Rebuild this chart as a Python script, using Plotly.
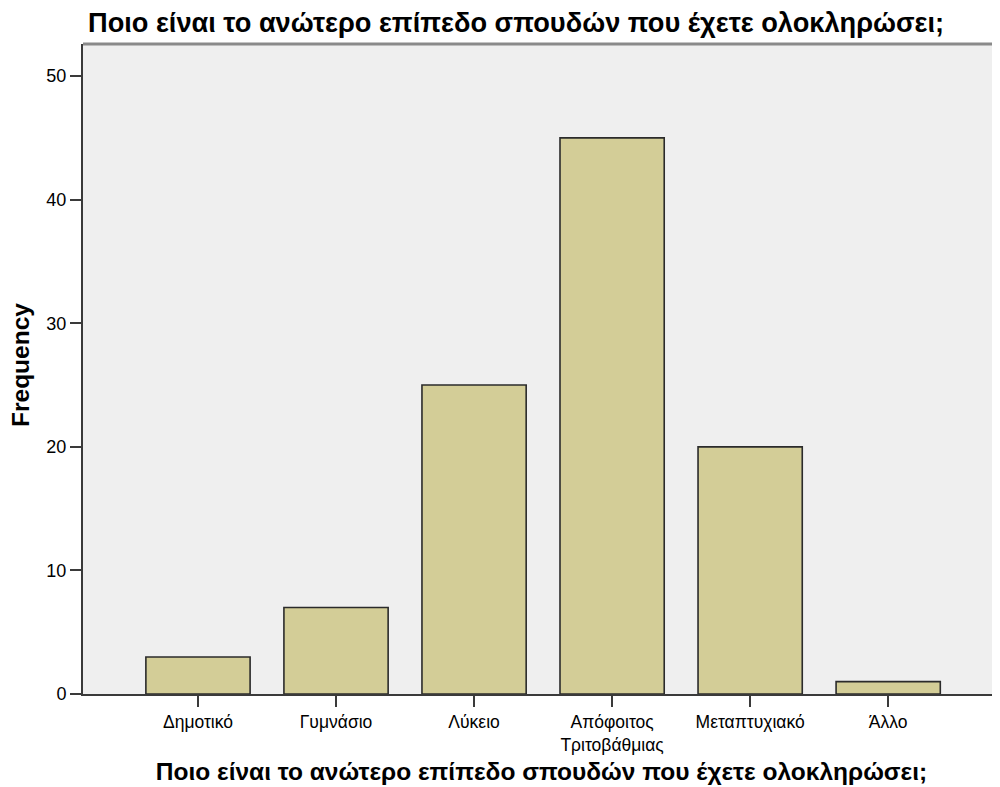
import plotly.graph_objects as go

categories = ["Δημοτικό", "Γυμνάσιο", "Λύκειο", "Απόφοιτος<br>Τριτοβάθμιας", "Μεταπτυχιακό", "Άλλο"]
frequencies = [3, 7, 25, 45, 20, 1]
y_ticks = [0, 10, 20, 30, 40, 50]
title_text = "Ποιο είναι το ανώτερο επίπεδο σπουδών που έχετε ολοκληρώσει;"
y_title = "Frequency"

# page body has an 8px margin; figure is sized to fit inside 1000x787 window
W, H = 992, 779
ML, MR, MT, MB = 75, 0, 36, 93

fig = go.Figure(
    go.Bar(
        x=list(range(len(categories))),
        y=frequencies,
        marker=dict(color="#d3cd97", line=dict(color="#2b2b2b", width=1.6)),
        width=0.755,
        hoverinfo="y",
    )
)

fig.update_layout(
    width=W,
    height=H,
    margin=dict(l=ML, r=MR, t=MT, b=MB),
    paper_bgcolor="white",
    plot_bgcolor="#efefef",
    showlegend=False,
    font=dict(family="Liberation Sans, Arial, sans-serif", color="#000000"),
    title=dict(
        text="<b>" + title_text + "</b>",
        x=80 / W,
        xanchor="left",
        xref="container",
        y=1 - 14 / H,
        yanchor="middle",
        yref="container",
        font=dict(size=27.2, family="Liberation Sans, Arial, sans-serif"),
    ),
    xaxis=dict(
        tickmode="array",
        tickvals=list(range(len(categories))),
        ticktext=categories,
        range=[-0.833, 5.81],
        showgrid=False,
        zeroline=False,
        showline=True,
        linecolor="#3a3a3a",
        linewidth=2,
        ticks="outside",
        ticklen=11,
        tickwidth=2,
        tickcolor="#3a3a3a",
        tickfont=dict(size=17.5),
        title=dict(text="<b>" + title_text + "</b>", font=dict(size=24.5), standoff=9),
    ),
    yaxis=dict(
        tickmode="array",
        tickvals=y_ticks,
        range=[0, 52.6],
        showgrid=False,
        zeroline=False,
        showline=True,
        linecolor="#3a3a3a",
        linewidth=2,
        ticks="outside",
        ticklen=11,
        tickwidth=2,
        tickcolor="#3a3a3a",
        tickfont=dict(size=18),
    ),
    annotations=[
        dict(
            text="<b>" + y_title + "</b>",
            xref="paper", yref="paper",
            x=(12 - ML) / (W - ML - MR),
            y=(H - MB - 357) / (H - MT - MB),
            xanchor="center", yanchor="middle",
            textangle=-90,
            showarrow=False,
            font=dict(size=24.5),
        )
    ],
    shapes=[
        dict(type="line", xref="paper", yref="paper", x0=0, x1=1, y0=1, y1=1,
             line=dict(color="#8a8a8a", width=3)),
    ],
)

fig.write_html("out.html")
